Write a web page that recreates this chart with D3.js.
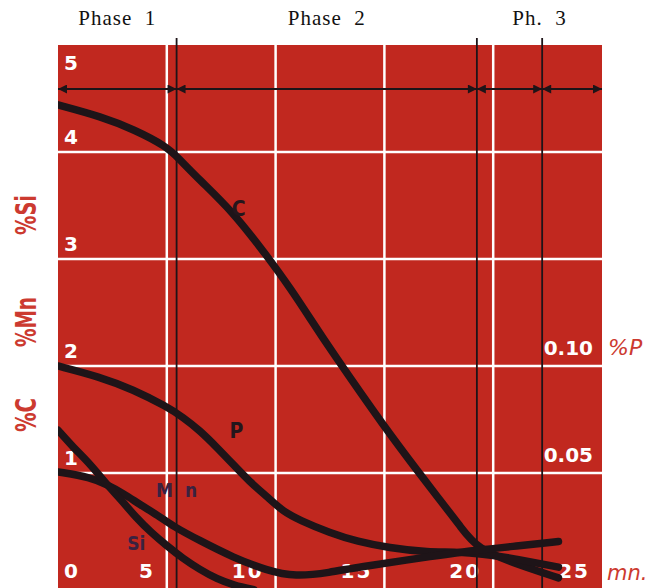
<!DOCTYPE html>
<html>
<head>
<meta charset="utf-8">
<script src="https://cdn.jsdelivr.net/npm/d3@7"></script>
<style>
  html, body { margin: 0; padding: 0; background: #fff; }
  svg { display: block; }
  text { white-space: pre; }
</style>
</head>
<body>
<div id="chart"></div>
<script>
var width = 653,
    height = 588;

// axis ticks
var minuteTicks = [0, 5, 10, 15, 20, 25];
var pctTicks = [0, 1, 2, 3, 4, 5];
var pTicks = [0.05, 0.10];

// phases of the blow (minutes)
var phaseNames = ["Phase  1", "Phase  2", "Ph.  3"];
var phaseStarts = [0, 5.45, 19.25];
var phaseEnds = [5.45, 19.25, 25];
var arrowStops = [0, 5.45, 19.25, 22.25, 25];

// carbon, %C
var cTime = [0, 2, 3.5, 5, 5.5, 6.5, 8, 9.6, 10.7, 11.6, 12.5, 15.1, 16.6, 17.5, 18.5, 19.25, 21.2, 23];
var cPct  = [4.44, 4.33, 4.21, 4.05, 3.95, 3.74, 3.45, 3.03, 2.72, 2.44, 2.16, 1.40, 1.0, 0.76, 0.50, 0.29, 0.14, 0.02];

// phosphorus, %P (right scale)
var pTime = [0, 1.9, 3.45, 5, 5.75, 6.5, 7.3, 8.05, 8.8, 9.6, 10.35, 11.1, 12.5, 13.75, 15.25, 16.8, 19.25, 21.2, 23];
var pPct  = [0.100, 0.095, 0.089, 0.081, 0.076, 0.070, 0.062, 0.054, 0.046, 0.039, 0.032, 0.028, 0.022, 0.018, 0.015, 0.013, 0.013, 0.0095, 0.006];

// manganese, %Mn
var mnTime = [0, 1.5, 2.25, 3, 3.8, 4.55, 5.3, 6.5, 8.05, 9.6, 10.9, 12.5, 13.75, 16.8, 19.25, 21.2, 23];
var mnPct  = [1.01, 0.96, 0.89, 0.81, 0.70, 0.61, 0.50, 0.37, 0.21, 0.09, 0.03, 0.07, 0.12, 0.21, 0.28, 0.32, 0.36];

// silicon, %Si
var siTime = [0, 0.7, 1.5, 2.25, 2.9, 3.6, 4.3, 5.0, 5.75, 6.5, 7.3, 8.1, 9.0];
var siPct  = [1.40, 1.24, 1.08, 0.89, 0.75, 0.58, 0.44, 0.32, 0.20, 0.10, 0.01, -0.05, -0.09];

// curve names
var labelText = ["C", "P", "M  n", "Si"];
var labelTime = [8.3, 8.2, 5.45, 3.6];
var labelLevel = [3.40, 1.33, 0.78, 0.28];

var red = "#c1281f",
    inkRed = "#cc3a30",
    ink = "#1e1418";

var x = d3.scaleLinear().domain([0, 25]).range([58, 602]);
var y = d3.scaleLinear().domain([0, 5]).range([580, 45]);
var yP = d3.scaleLinear().domain([0, 0.25]).range([580, 45]);

var svg = d3.select("#chart").append("svg")
    .attr("width", width)
    .attr("height", height);

var defs = svg.append("defs");
defs.append("clipPath").attr("id", "plot")
  .append("rect")
    .attr("x", x(0)).attr("y", y(5))
    .attr("width", x(25) - x(0)).attr("height", height - y(5));

defs.append("marker")
    .attr("id", "head")
    .attr("viewBox", "0 0 10 10")
    .attr("refX", 10).attr("refY", 5)
    .attr("markerWidth", 12).attr("markerHeight", 9)
    .attr("markerUnits", "userSpaceOnUse")
    .attr("orient", "auto-start-reverse")
  .append("path")
    .attr("d", "M0,0L10,5L0,10z")
    .attr("fill", ink);

// red panel
svg.append("rect")
    .attr("x", x(0)).attr("y", y(5))
    .attr("width", x(25) - x(0)).attr("height", height - y(5))
    .attr("fill", red);

// white grid
svg.append("g").selectAll("line")
    .data(minuteTicks.slice(1, -1))
  .enter().append("line")
    .attr("x1", function(d) { return x(d); })
    .attr("x2", function(d) { return x(d); })
    .attr("y1", y(5)).attr("y2", height)
    .attr("stroke", "#fff").attr("stroke-width", 2.5);

svg.append("g").selectAll("line")
    .data(pctTicks.slice(1, -1))
  .enter().append("line")
    .attr("x1", x(0)).attr("x2", x(25))
    .attr("y1", function(d) { return y(d); })
    .attr("y2", function(d) { return y(d); })
    .attr("stroke", "#fff").attr("stroke-width", 2.5);

// tick numbers
var tickFont = "'DejaVu Sans', sans-serif";

svg.append("g").selectAll("text")
    .data(pctTicks)
  .enter().append("text")
    .attr("x", 71)
    .attr("y", function(d) {
      if (d === 5) return y(d) + 25;
      if (d === 0) return y(d) - 2;
      return y(d) - 8;
    })
    .attr("text-anchor", "middle")
    .style("font", "bold 20px " + tickFont)
    .attr("fill", "#fff")
    .text(function(d) { return d; });

svg.append("g").selectAll("text")
    .data(minuteTicks.slice(1))
  .enter().append("text")
    .attr("x", function(d) { return x(d) - 12; })
    .attr("y", y(0) - 2)
    .attr("text-anchor", "end")
    .attr("letter-spacing", 2)
    .style("font", "bold 20px " + tickFont)
    .attr("fill", "#fff")
    .text(function(d) { return d; });

svg.append("g").selectAll("text")
    .data(pTicks)
  .enter().append("text")
    .attr("x", 593)
    .attr("y", function(d) { return yP(d) - 11; })
    .attr("text-anchor", "end")
    .style("font", "bold 20px " + tickFont)
    .attr("fill", "#fff")
    .text(function(d) { return d3.format(".2f")(d); });

// phase boundaries
svg.append("g").selectAll("line")
    .data(arrowStops.slice(1, -1))
  .enter().append("line")
    .attr("x1", function(d) { return x(d); })
    .attr("x2", function(d) { return x(d); })
    .attr("y1", 38).attr("y2", height)
    .attr("stroke", ink).attr("stroke-width", 1.8);

svg.append("g").selectAll("line")
    .data(d3.pairs(arrowStops))
  .enter().append("line")
    .attr("x1", function(d) { return x(d[0]); })
    .attr("x2", function(d) { return x(d[1]); })
    .attr("y1", 89).attr("y2", 89)
    .attr("stroke", ink).attr("stroke-width", 2)
    .attr("marker-start", "url(#head)")
    .attr("marker-end", "url(#head)");

svg.append("g").selectAll("text")
    .data(phaseNames)
  .enter().append("text")
    .attr("x", function(d, i) { return x((phaseStarts[i] + phaseEnds[i]) / 2); })
    .attr("y", 25)
    .attr("text-anchor", "middle")
    .attr("letter-spacing", 1)
    .style("font", "21px 'Liberation Serif', serif")
    .attr("fill", "#111")
    .text(function(d) { return d; });

// curves
var line = d3.line()
    .x(function(d) { return x(d[0]); })
    .y(function(d) { return d[1]; })
    .curve(d3.curveBasis);

var series = [
  d3.zip(cTime, cPct.map(y)),
  d3.zip(pTime, pPct.map(yP)),
  d3.zip(mnTime, mnPct.map(y)),
  d3.zip(siTime, siPct.map(y))
];

svg.append("g")
    .attr("clip-path", "url(#plot)")
  .selectAll("path")
    .data(series)
  .enter().append("path")
    .attr("d", line)
    .attr("fill", "none")
    .attr("stroke", ink)
    .attr("stroke-width", 7.5)
    .attr("stroke-linecap", "round");

svg.append("g").selectAll("text")
    .data(labelText)
  .enter().append("text")
    .attr("x", function(d, i) { return x(labelTime[i]); })
    .attr("y", function(d, i) { return y(labelLevel[i]); })
    .attr("text-anchor", "middle")
    .style("font", function(d, i) {
      return "bold " + (i < 2 ? 21 : 19) + "px 'DejaVu Sans Condensed', 'DejaVu Sans', sans-serif";
    })
    .attr("fill", function(d, i) { return i < 2 ? "#24161c" : "#3a2240"; })
    .text(function(d) { return d; });

// element names on the left, rotated
var sideNames = ["%Si", "%Mn", "%C"];
var sideCenter = [215, 322, 415];
var sideLength = [40, 50, 34];

svg.append("g").selectAll("text")
    .data(sideNames)
  .enter().append("text")
    .attr("transform", function(d, i) { return "translate(36," + sideCenter[i] + ")rotate(-90)"; })
    .attr("text-anchor", "middle")
    .attr("textLength", function(d, i) { return sideLength[i]; })
    .attr("lengthAdjust", "spacingAndGlyphs")
    .style("font", "bold 28px 'DejaVu Sans Condensed', 'DejaVu Sans', sans-serif")
    .attr("fill", inkRed)
    .text(function(d) { return d; });

// units on the right
svg.append("text")
    .attr("x", 608).attr("y", yP(0.10) - 11)
    .style("font", "italic 22px 'DejaVu Sans', sans-serif")
    .attr("fill", inkRed)
    .text("%P");

svg.append("text")
    .attr("x", 607).attr("y", y(0))
    .style("font", "italic 21px 'DejaVu Sans', sans-serif")
    .attr("fill", inkRed)
    .text("mn.");
</script>
</body>
</html>
